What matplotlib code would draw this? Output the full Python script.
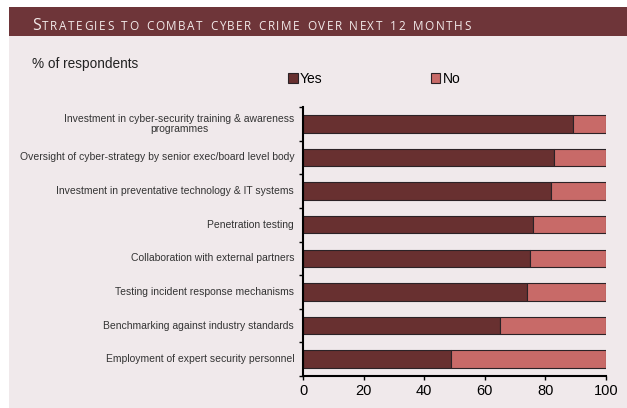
import matplotlib.pyplot as plt
from matplotlib.patches import Rectangle

# Survey results, listed top to bottom
strategies = [
    'Investment in cyber-security training & awareness\nprogrammes',
    'Oversight of cyber-strategy by senior exec/board level body',
    'Investment in preventative technology & IT systems',
    'Penetration testing',
    'Collaboration with external partners',
    'Testing incident response mechanisms',
    'Benchmarking against industry standards',
    'Employment of expert security personnel',
]
yes_pct = [89, 83, 82, 76, 75, 74, 65, 49]
no_pct = [100 - v for v in yes_pct]
x_ticks = [0, 20, 40, 60, 80, 100]

title = 'Strategies to combat cyber crime over next 12 months'

YES_COLOR = '#683030'
NO_COLOR = '#C86A68'
BAND_COLOR = '#6E3539'
PANEL_COLOR = '#F0E9EB'

W, H = 627, 408
fig = plt.figure(figsize=(W / 100, H / 100), dpi=100)
fig.patch.set_facecolor('white')

# panel background and title band
fig.add_artist(Rectangle((9 / W, 0), 1, (H - 36) / H, transform=fig.transFigure,
                         facecolor=PANEL_COLOR, edgecolor='none', zorder=0))
fig.add_artist(Rectangle((9 / W, (H - 36) / H), 1, 29 / H, transform=fig.transFigure,
                         facecolor=BAND_COLOR, edgecolor='none', zorder=0))


def small_caps(x_px, y_px, text, big, small, tracking, color):
    # lay out letters one by one to fake small capitals with wide tracking
    renderer = fig.canvas.get_renderer()
    for ch in text:
        if ch == ' ':
            x_px += 6.0
            continue
        size = big if ch.isupper() else small
        t = fig.text(x_px / W, 1 - y_px / H, ch.upper(), fontsize=size,
                     family='Open Sans', color=color, va='baseline', ha='left')
        x_px += t.get_window_extent(renderer).width + tracking


small_caps(32, 29.5, title, 11.5, 8.5, 1.55, '#F3EAEA')

ax = fig.add_axes([303 / W, (H - 376) / H, 303 / W, 269 / H])
ax.set_facecolor('none')

pos = list(range(len(strategies)))
ax.barh(pos, yes_pct, height=0.52, color=YES_COLOR, edgecolor='#2B2226',
        linewidth=0.8, label='Yes')
ax.barh(pos, no_pct, left=yes_pct, height=0.52, color=NO_COLOR,
        edgecolor='#2B2226', linewidth=0.8, label='No')

ax.set_ylim(len(strategies) - 0.5, -0.5)
ax.set_xlim(0, 100)
ax.set_yticks([p - 0.5 for p in pos] + [len(strategies) - 0.5])
ax.set_yticklabels([])
ax.tick_params(axis='y', length=3, width=1, direction='out')
ax.set_xticks(x_ticks)
ax.set_xticklabels([str(v) for v in x_ticks], fontsize=10.5, family='Liberation Sans')
ax.tick_params(axis='x', length=3, width=1, direction='out', pad=3)

for p, label in zip(pos, strategies):
    ax.text(-2.9, p, label, ha='right' if '\n' not in label else 'center',
            va='center', fontsize=7.5, family='Liberation Sans', color='#333333',
            linespacing=1.05)

for side in ['top', 'right']:
    ax.spines[side].set_visible(False)
for side in ['left', 'bottom']:
    ax.spines[side].set_linewidth(1.5)

# two-line first label is centred under its longest line
lbl = ax.texts[0]
renderer = fig.canvas.get_renderer()
w_px = lbl.get_window_extent(renderer).width
lbl.set_position((-2.9 - w_px / 2 / (303 / 100), 0))

fig.text(32 / W, 1 - 64 / H, '% of respondents', fontsize=9.8,
         family='Liberation Sans', va='center', color='#222222')

leg = ax.legend(loc='center left', bbox_to_anchor=(281 / W, 1 - 79 / H),
                bbox_transform=fig.transFigure, ncol=2, frameon=False,
                prop={'family': 'Liberation Sans', 'size': 10},
                handlelength=0.7, handleheight=0.7, handletextpad=0.15,
                columnspacing=7.8, borderpad=0)

fig.savefig('out.png', dpi=100)
